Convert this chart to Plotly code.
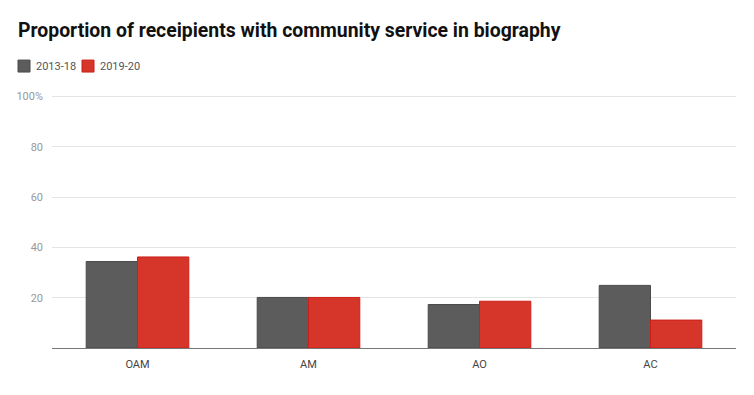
import plotly.graph_objects as go

categories = ["OAM", "AM", "AO", "AC"]
series_names = ["2013-18", "2019-20"]
series_colors = ["#5c5c5c", "#d6352a"]
series_edges = ["#4a4a4a", "#cc1f1a"]
values_2013_18 = [34.4, 20.1, 17.3, 24.9]
values_2019_20 = [36.2, 20.1, 18.6, 11.1]
y_tick_vals = [0, 20, 40, 60, 80, 100]
y_tick_text = ["", "20", "40", "60", "80", "100%"]
y_range = [0, 101]

W, H = 754, 395
ML, MR, MT, MB = 52, 18, 93.5, 47
PW, PH = W - ML - MR, H - MT - MB


def px_x(px):
    return (px - ML) / PW


def px_y(py):
    return (H - MB - py) / PH


fig = go.Figure()
for name, vals, col, edge in zip(series_names, [values_2013_18, values_2019_20],
                                 series_colors, series_edges):
    fig.add_trace(go.Bar(
        x=categories, y=vals, name=name, showlegend=False,
        marker=dict(color=col, line=dict(color=edge, width=1)),
    ))

# legend (swatch + label), laid out in pixels above the plot
legend_x = [18, 82]
for i, (name, col, edge) in enumerate(zip(series_names, series_colors, series_edges)):
    x0 = legend_x[i]
    fig.add_shape(type="rect", xref="paper", yref="paper",
                  x0=px_x(x0), x1=px_x(x0 + 12), y0=px_y(59.5), y1=px_y(71.5),
                  fillcolor=col, line=dict(color=edge, width=1))
    fig.add_annotation(xref="paper", yref="paper", x=px_x(x0 + 16), y=px_y(65.5),
                       text=name, showarrow=False, xanchor="left", yanchor="middle",
                       font=dict(size=11, color="#555", family="Roboto"))

fig.update_layout(
    width=W, height=H,
    paper_bgcolor="white", plot_bgcolor="white",
    font=dict(family="Roboto", color="#333"),
    title=dict(
        text="<b>Proportion of receipients with community service in biography</b>",
        x=18 / W, xanchor="left", xref="container",
        y=1 - 30 / H, yanchor="middle", yref="container",
        font=dict(size=19.4, color="#111", family="Roboto"),
    ),
    showlegend=False,
    margin=dict(l=ML, r=MR, t=MT, b=MB),
    barmode="group", bargap=0.40, bargroupgap=0,
    xaxis=dict(
        showgrid=False, ticks="", tickfont=dict(size=11, color="#444"),
        showline=True, linecolor="#777", linewidth=1, ticklabelstandoff=6,
    ),
    yaxis=dict(
        range=y_range, tickvals=y_tick_vals, ticktext=y_tick_text,
        showgrid=True, gridcolor="#e4e4e4", gridwidth=1,
        zeroline=False, ticks="", ticklabelstandoff=8,
        tickfont=dict(size=11, color="#999"),
    ),
)

fig.write_html(
    "out.html",
    config={"displayModeBar": False},
    post_script="document.body.style.margin='0';document.body.style.padding='0';",
)
